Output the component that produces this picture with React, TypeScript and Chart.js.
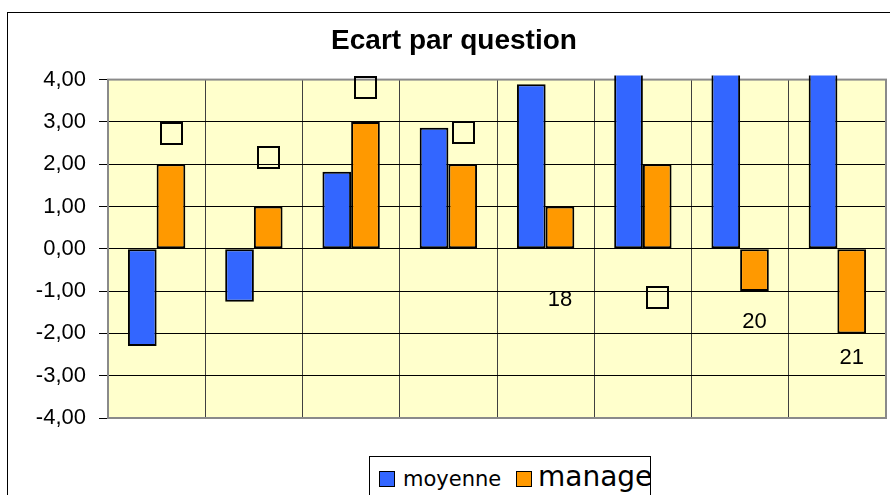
import React, { useEffect, useRef } from "react";
import { Chart, registerables } from "chart.js";

Chart.register(...registerables);

const categories = ["Q1", "Q2", "Q3", "Q4", "Q5", "Q6", "Q7", "Q8"];
const moyenneValues = [-2.3, -1.25, 1.82, 2.86, 3.89, 5, 5, 5];
const managerValues = [2, 1, 3, 2, 1, 2, -1, -2];
const markerValues: (number | null)[] = [2.73, 2.16, 3.82, 2.77, null, -1.14, null, null];
const floatLabelTexts: (string | null)[] = [null, null, null, null, "18", null, "20", "21"];
const floatLabelValues: (number | null)[] = [null, null, null, null, -1.2, null, -1.73, -2.58];
const yTickValues = [-4, -3, -2, -1, 0, 1, 2, 3, 4];
const yTickLabels = ["-4,00", "-3,00", "-2,00", "-1,00", "0,00", "1,00", "2,00", "3,00", "4,00"];

const plotDecor = {
  id: "plotDecor",
  beforeDraw(chart: any) {
    const { ctx, chartArea } = chart;
    ctx.save();
    ctx.fillStyle = "#FFFFCC";
    ctx.fillRect(chartArea.left, chartArea.top, chartArea.right - chartArea.left, chartArea.bottom - chartArea.top);
    ctx.restore();
  },
  beforeDatasetsDraw(chart: any) {
    const { ctx, chartArea } = chart;
    ctx.save();
    ctx.strokeStyle = "#8a8a8a";
    ctx.lineWidth = 2;
    ctx.strokeRect(chartArea.left, chartArea.top, chartArea.right - chartArea.left, chartArea.bottom - chartArea.top);
    ctx.restore();
  },
  afterDatasetsDraw(chart: any) {
    const { ctx } = chart;
    const yScale = chart.scales.y;
    const meta = chart.getDatasetMeta(1);
    ctx.save();
    ctx.strokeStyle = "#000";
    ctx.lineWidth = 2;
    markerValues.forEach((v, i) => {
      if (v === null) return;
      const x = meta.data[i].x;
      const y = yScale.getPixelForValue(v);
      ctx.strokeRect(Math.round(x) - 10, Math.round(y) - 10, 21, 21);
    });
    ctx.fillStyle = "#000";
    ctx.font = "22px 'Liberation Sans', Arial, sans-serif";
    ctx.textAlign = "center";
    ctx.textBaseline = "middle";
    floatLabelTexts.forEach((t, i) => {
      const v = floatLabelValues[i];
      if (t === null || v === null) return;
      const x = meta.data[i].x;
      const y = yScale.getPixelForValue(v);
      ctx.fillText(t, x, y);
    });
    ctx.restore();
  },
};

export default function App() {
  const canvasRef = useRef<HTMLCanvasElement | null>(null);

  useEffect(() => {
    if (!canvasRef.current) return;
    const clip = { left: 0, top: 4, right: 0, bottom: 0 };
    const chart = new Chart(canvasRef.current, {
      type: "bar",
      data: {
        labels: categories,
        datasets: [
          {
            label: "moyenne",
            data: moyenneValues,
            backgroundColor: "#3366FF",
            borderColor: "#000",
            borderWidth: 2,
            borderSkipped: false,
            categoryPercentage: 0.59,
            barPercentage: 1,
            clip,
          } as any,
          {
            label: "manager",
            data: managerValues,
            backgroundColor: "#FF9900",
            borderColor: "#000",
            borderWidth: 2,
            borderSkipped: false,
            categoryPercentage: 0.59,
            barPercentage: 1,
            clip,
          } as any,
        ],
      },
      options: {
        animation: false,
        responsive: false,
        devicePixelRatio: 1,
        layout: { padding: { left: 22, right: 4, top: 0, bottom: 77 } },
        plugins: {
          legend: { display: false },
          tooltip: { enabled: false },
          title: {
            display: true,
            text: "Ecart par question",
            color: "#000",
            font: { family: "'Liberation Sans', Arial, sans-serif", size: 28, weight: "bold" },
            padding: { top: 24, bottom: 22 },
          },
        },
        scales: {
          x: {
            ticks: { display: false },
            grid: { color: "#404040", lineWidth: 1, drawTicks: false, offset: true },
            border: { display: false },
            afterFit(scale: any) {
              scale.height = 0;
            },
          },
          y: {
            min: -4,
            max: 4,
            afterBuildTicks(scale: any) {
              scale.ticks = yTickValues.map((v) => ({ value: v }));
            },
            ticks: {
              color: "#000",
              font: { family: "'Liberation Sans', Arial, sans-serif", size: 22 },
              padding: 13,
              callback: (v: any) => yTickLabels[yTickValues.indexOf(Number(v))],
            },
            grid: { color: "#000", lineWidth: 1, tickLength: 9 },
            border: { display: false },
            afterFit(scale: any) {
              scale.width = 86;
            },
          },
        },
      } as any,
      plugins: [plotDecor],
    });
    return () => chart.destroy();
  }, []);

  return (
    <div style={{ position: "fixed", left: 0, top: 0, width: 890, height: 495, overflow: "hidden", background: "#fff" }}>
      <canvas ref={canvasRef} width={890} height={495} style={{ position: "absolute", left: 0, top: 0, width: 890, height: 495 }} />
      <div style={{ position: "absolute", left: 7, top: 12, width: 900, height: 500, border: "1px solid #000", pointerEvents: "none" }} />
      <div
        style={{
          position: "absolute",
          left: 369,
          top: 456,
          width: 280,
          height: 60,
          border: "1px solid #000",
          background: "#fff",
          overflow: "hidden",
        }}
      >
        <div style={{ position: "absolute", left: 9, top: 14, width: 14, height: 14, background: "#3366FF", border: "1.5px solid #000" }} />
        <div style={{ position: "absolute", left: 33, top: 12, fontFamily: "'DejaVu Sans', Tahoma, sans-serif", fontSize: 21, lineHeight: "21px", color: "#000", whiteSpace: "nowrap" }}>
          moyenne
        </div>
        <div style={{ position: "absolute", left: 146, top: 14, width: 14, height: 14, background: "#FF9900", border: "1.5px solid #000" }} />
        <div style={{ position: "absolute", left: 168, top: 6, fontFamily: "'DejaVu Sans', Tahoma, sans-serif", fontSize: 28, lineHeight: "28px", color: "#000", whiteSpace: "nowrap" }}>
          manager
        </div>
      </div>
    </div>
  );
}
